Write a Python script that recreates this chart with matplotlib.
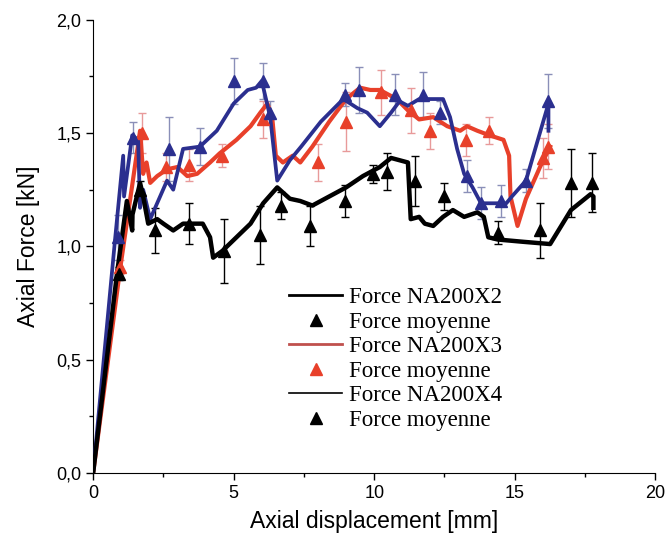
import matplotlib
matplotlib.use("Agg")
import matplotlib.pyplot as plt
from matplotlib.lines import Line2D
from matplotlib.ticker import MultipleLocator, FuncFormatter

# curve NA200X2 (black)
x2 = [0, 0.85, 1.2, 1.39, 1.4, 1.67, 1.78, 1.96, 2.28, 2.5, 2.85, 3.2, 3.9, 4.16, 4.27, 4.6,
      5.1, 5.6, 6.05, 6.55, 7.0, 7.37, 7.8, 8.4, 9.0, 9.6, 10.2, 10.6, 11.2, 11.3, 11.6, 11.8,
      12.1, 12.45, 12.8, 13.2, 13.67, 13.9, 14.06, 14.4, 15.3, 16.26, 17.0, 17.7, 17.8, 17.8]
y2 = [0, 0.88, 1.2, 1.07, 1.14, 1.28, 1.22, 1.10, 1.12, 1.10, 1.07, 1.10, 1.10, 1.04, 0.95, 0.98,
      1.04, 1.10, 1.19, 1.26, 1.21, 1.20, 1.18, 1.22, 1.26, 1.31, 1.35, 1.39, 1.37, 1.12, 1.13, 1.10,
      1.09, 1.13, 1.16, 1.13, 1.15, 1.13, 1.04, 1.03, 1.02, 1.01, 1.16, 1.23, 1.22, 1.17]

# curve NA200X3 (red)
x3 = [0, 0.96, 1.67, 1.78, 1.9, 2.03, 2.28, 2.63, 3.0, 3.35, 3.7, 4.16, 4.5, 5.1, 5.6, 5.95,
      6.2, 6.37, 6.5, 6.75, 7.1, 7.37, 7.8, 8.4, 9.0, 9.5, 9.86, 10.2, 10.8, 11.2, 11.6, 12.1,
      12.6, 13.06, 13.3, 13.67, 14.1, 14.6, 14.8, 14.85, 15.1, 15.4, 15.9, 16.26]
y3 = [0, 0.90, 1.51, 1.32, 1.37, 1.28, 1.31, 1.34, 1.35, 1.31, 1.32, 1.37, 1.41, 1.47, 1.53, 1.59,
      1.63, 1.57, 1.40, 1.37, 1.40, 1.37, 1.44, 1.55, 1.65, 1.70, 1.69, 1.69, 1.65, 1.60, 1.56, 1.57,
      1.53, 1.51, 1.53, 1.51, 1.49, 1.47, 1.40, 1.22, 1.09, 1.21, 1.35, 1.44]

# curve NA200X4 (blue)
x4 = [0, 0.78, 1.07, 1.1, 1.39, 1.6, 1.67, 1.78, 2.03, 2.63, 2.85, 3.2, 3.8, 4.4, 5.0, 5.5,
      5.8, 6.0, 6.3, 6.55, 7.0, 7.4, 8.1, 8.9, 9.4, 9.75, 10.2, 10.6, 10.9, 11.2, 11.6, 12.45,
      12.7, 12.95, 13.2, 13.5, 13.8, 14.7, 14.9, 15.4, 16.2, 16.2]
y4 = [0, 1.03, 1.40, 1.22, 1.49, 1.47, 1.17, 1.25, 1.12, 1.29, 1.25, 1.43, 1.44, 1.51, 1.63, 1.69,
      1.70, 1.73, 1.57, 1.29, 1.38, 1.44, 1.55, 1.65, 1.61, 1.59, 1.53, 1.59, 1.64, 1.62, 1.65, 1.65,
      1.57, 1.43, 1.32, 1.26, 1.19, 1.19, 1.22, 1.29, 1.63, 1.51]

# mean forces with error bars
mx2 = [0.92, 1.67, 2.2, 3.4, 4.66, 5.95, 6.7, 7.7, 8.97, 9.96, 10.45, 11.45, 12.5, 14.4, 15.9, 17.0, 17.75]
my2 = [0.88, 1.25, 1.07, 1.10, 0.98, 1.05, 1.18, 1.09, 1.20, 1.32, 1.33, 1.29, 1.22, 1.06, 1.07, 1.28, 1.28]
me2 = [0.03, 0.04, 0.10, 0.09, 0.14, 0.13, 0.06, 0.09, 0.07, 0.04, 0.08, 0.11, 0.06, 0.05, 0.12, 0.15, 0.13]

mx3 = [0.96, 1.74, 2.6, 3.4, 4.6, 6.05, 8.0, 9.0, 10.25, 11.3, 12.0, 13.25, 14.1, 16.0, 16.2]
my3 = [0.91, 1.50, 1.35, 1.36, 1.40, 1.56, 1.37, 1.55, 1.68, 1.60, 1.51, 1.47, 1.51, 1.39, 1.44]
me3 = [0.03, 0.09, 0.06, 0.07, 0.05, 0.08, 0.08, 0.13, 0.10, 0.10, 0.08, 0.07, 0.06, 0.09, 0.10]

mx4 = [0.9, 1.42, 2.7, 3.8, 5.0, 6.05, 6.3, 8.97, 9.47, 10.75, 11.75, 12.35, 13.3, 13.8, 14.5, 15.4, 16.2]
my4 = [1.04, 1.48, 1.43, 1.44, 1.73, 1.73, 1.59, 1.67, 1.69, 1.67, 1.67, 1.59, 1.31, 1.19, 1.20, 1.29, 1.64]
me4 = [0.10, 0.07, 0.14, 0.08, 0.10, 0.08, 0.05, 0.05, 0.10, 0.09, 0.10, 0.05, 0.07, 0.07, 0.07, 0.05, 0.12]

labels = ["Force NA200X2", "Force moyenne", "Force NA200X3", "Force moyenne",
          "Force NA200X4", "Force moyenne"]

blue = "#2b2f8f"
red = "#e8402a"

fig = plt.figure(figsize=(6.7, 5.48), dpi=100)
ax = fig.add_axes([0.139, 0.137, 0.839, 0.827])

ax.errorbar(mx3, my3, yerr=me3, fmt="none", ecolor="#e89a9a", elinewidth=1, capsize=3, zorder=1)
ax.errorbar(mx4, my4, yerr=me4, fmt="none", ecolor="#8a8fb8", elinewidth=1, capsize=3, zorder=1)
ax.errorbar(mx2, my2, yerr=me2, fmt="none", ecolor="black", elinewidth=1, capsize=3, zorder=1)

ax.plot(x3, y3, color=red, lw=3, zorder=2)
ax.plot(x4, y4, color=blue, lw=2.7, zorder=3)
ax.plot(x2, y2, color="black", lw=3.2, zorder=4)

ax.plot(mx3, my3, "^", color=red, ms=8.5, zorder=5)
ax.plot(mx4, my4, "^", color=blue, ms=8.5, zorder=5)
ax.plot(mx2, my2, "^", color="black", ms=8.5, zorder=5)

ax.set_xlim(0, 20)
ax.set_ylim(0, 2.0)
ax.xaxis.set_major_locator(MultipleLocator(5))
ax.xaxis.set_minor_locator(MultipleLocator(2.5))
ax.yaxis.set_major_locator(MultipleLocator(0.5))
ax.yaxis.set_minor_locator(MultipleLocator(0.25))
ax.yaxis.set_major_formatter(FuncFormatter(lambda v, p: f"{v:.1f}".replace(".", ",")))
for s in ["top", "right"]:
    ax.spines[s].set_visible(False)
ax.tick_params(which="major", direction="out", length=5, width=1, labelsize=13)
ax.tick_params(which="minor", direction="out", length=3, width=1)
for t in ax.get_xticklabels() + ax.get_yticklabels():
    t.set_fontfamily("Liberation Sans")
ax.set_xlabel("Axial displacement [mm]", fontsize=16.5, family="Liberation Sans", labelpad=6)
ax.set_ylabel("Axial Force [kN]", fontsize=16.5, family="Liberation Sans", labelpad=12)

handles = [
    Line2D([], [], color="black", lw=2),
    Line2D([], [], ls="none", marker="^", color="black", ms=8),
    Line2D([], [], color="#c0504d", lw=2),
    Line2D([], [], ls="none", marker="^", color=red, ms=8),
    Line2D([], [], color="black", lw=1.2),
    Line2D([], [], ls="none", marker="^", color="black", ms=8),
]
ax.legend(handles, labels, loc="upper left", bbox_to_anchor=(0.345, 0.415), frameon=False,
          prop={"family": "Liberation Serif", "size": 16.5}, labelspacing=0.15,
          handlelength=2.3, handletextpad=0.3, borderpad=0.1, borderaxespad=0)

fig.savefig("out.png", dpi=100)
